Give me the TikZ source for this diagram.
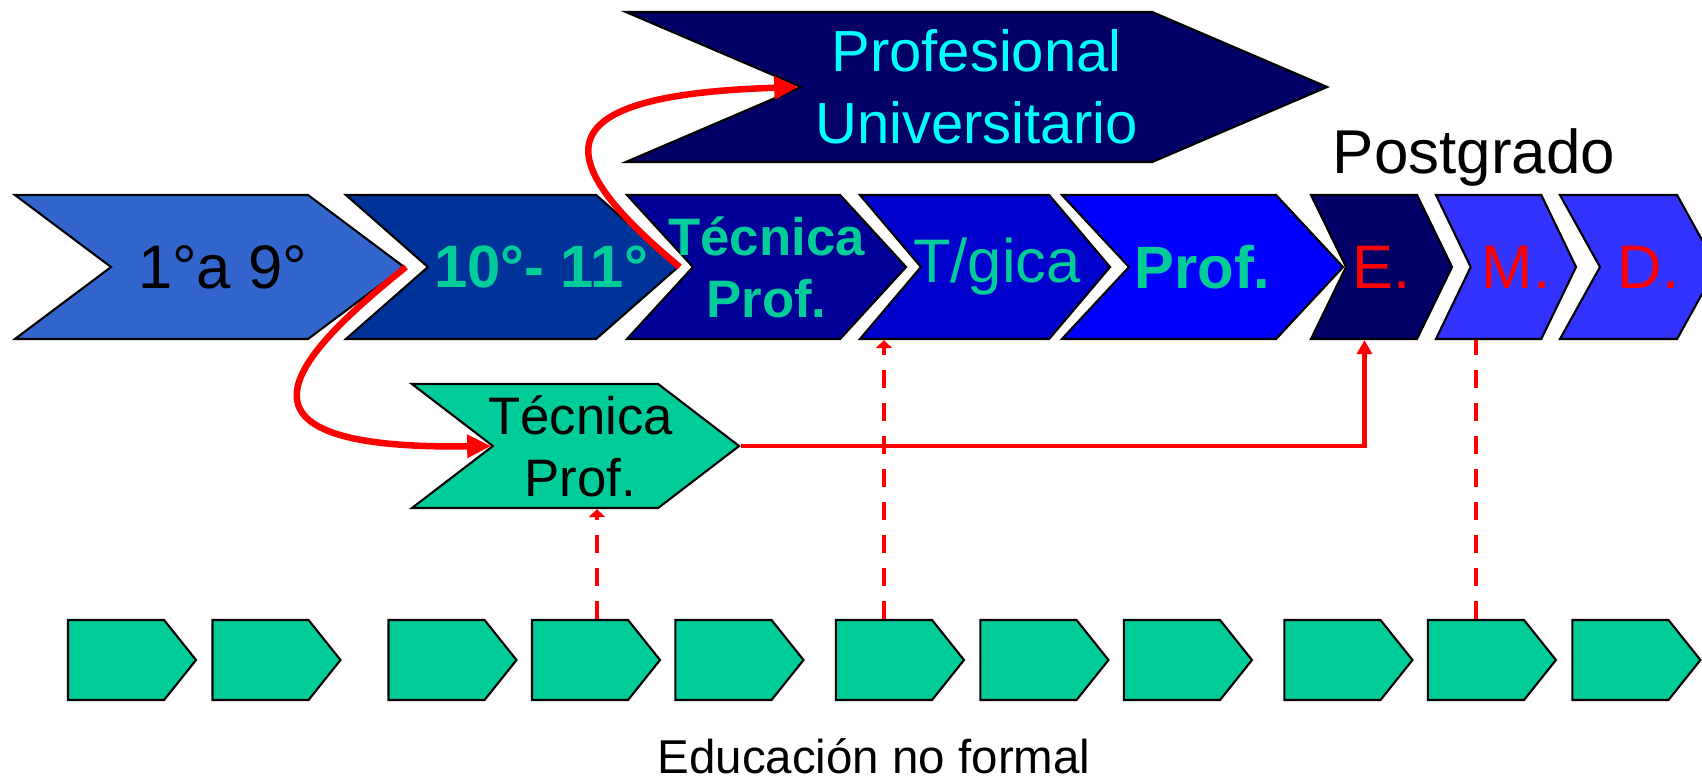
\documentclass[tikz,border=0pt]{standalone}
\usepackage{fontspec}
\setmainfont{Liberation Sans}
\usetikzlibrary{arrows.meta, shapes.symbols, positioning}

\definecolor{verde}{HTML}{00CC99}
\definecolor{cian}{HTML}{00FFFF}
\definecolor{rojo}{HTML}{FF0000}
\definecolor{azul1}{HTML}{3366CC}
\definecolor{azul2}{HTML}{003399}
\definecolor{azul3}{HTML}{000099}
\definecolor{azul4}{HTML}{0000CC}
\definecolor{azul5}{HTML}{0000FF}
\definecolor{marino}{HTML}{000066}
\definecolor{lila}{HTML}{3333FF}

% text that may run over the points of its chevron
\newcommand{\rotulo}[2][0cm]{\makebox[0pt]{\hspace*{#1}#2}}

\tikzset{chevron/.style = {
  % Shape:
  signal, signal to=east, signal from=west,
  draw=black, line width=0.6pt,
  minimum height=1.44cm, inner sep=0pt,
  % Text:
  align=center,
  font=\fontsize{17.5}{20}\selectfont
  }}
\tikzset{formal/.style = {
  % Shape:
  chevron,
  % Text:
  text=verde,
  font=\bfseries\fontsize{17}{20}\selectfont
  }}
\tikzset{grado/.style = {
  % Shape:
  chevron,
  % Text:
  text=rojo
  }}
\tikzset{modulo/.style = {
  % Shape:
  signal, signal to=east, signal from=nowhere,
  draw=black, line width=0.6pt,
  fill=verde,
  minimum width=1.28cm, minimum height=0.8cm,
  signal pointer angle=102.7
  }}
\tikzset{curva/.style = {
  -{Triangle[length=0.24cm, width=0.22cm]},
  draw=rojo,
  line width=1.85pt
  }}
\tikzset{linea/.style = {
  -{Triangle[length=0.14cm, width=0.15cm]},
  draw=rojo,
  line width=1.4pt
  }}
\tikzset{discontinua/.style = {
  -{Triangle[length=0.08cm, width=0.16cm]},
  draw=rojo,
  line width=1.2pt,
  dash pattern=on 0.18cm off 0.15cm
  }}

\begin{document}
\begin{tikzpicture}[x=0.01cm, y=-0.01cm]
  \useasboundingbox (0,0) rectangle (1702,778);

  %
  % Specification of nodes
  %
  \node (basica) [chevron, fill=azul1, minimum width=3.89cm, signal pointer angle=73.7] at (209.5,267) {\rotulo[0.26cm]{1°a 9°}};
  \node (media) [formal, fill=azul2, minimum width=3.32cm, signal pointer angle=82.6] at (512,267) {\rotulo[0.58cm]{10°- 11°}};
  \node (tecprof) [formal, fill=azul3, minimum width=2.79cm, signal pointer angle=95,
    font=\bfseries\fontsize{15}{17.6}\selectfont] at (766.5,267) {\rotulo{Técnica}\\\rotulo{Prof.}};
  \node (tecnologica) [chevron, text=verde, fill=azul4, minimum width=2.5cm, signal pointer angle=99.5] at (985,267) {\rotulo[0.24cm]{T/gica}};
  \node (profesional) [formal, fill=azul5, minimum width=2.81cm, signal pointer angle=94.1] at (1202.5,267) {\rotulo{Prof.}};
  \node (especializacion) [grado, fill=marino, minimum width=1.41cm, signal pointer angle=128.1] at (1381.5,267) {\rotulo{E.}};
  \node (maestria) [grado, fill=lila, minimum width=1.4cm, signal pointer angle=128.5] at (1506,267) {\rotulo[0.2cm]{M.}};
  \node (doctorado) [grado, fill=lila, minimum width=1.57cm, signal pointer angle=121.9] at (1638.5,267) {\rotulo[0.2cm]{D.}};

  \node (universitario) [chevron, text=cian, fill=marino, minimum width=7.01cm, minimum height=1.5cm,
    signal pointer angle=46.4, font=\fontsize{16.5}{20.5}\selectfont] at (976.5,87) {Profesional\\Universitario};
  \node (postgrado) [anchor=base, font=\fontsize{17.6}{20}\selectfont] at (1474,173) {Postgrado};

  \node (tecprof-media) [chevron, fill=verde, minimum width=3.27cm, minimum height=1.24cm,
    signal pointer angle=74.9, font=\fontsize{15}{17.6}\selectfont] at (575.5,446) {\rotulo[0.1cm]{Técnica}\\\rotulo[0.1cm]{Prof.}};

  \node (nf1) [modulo] at (116,660) {};
  \node (nf2) [modulo, right = 0.14cm of nf1] {};
  \node (nf3) [modulo, right = 0.455cm of nf2] {};
  \node (nf4) [modulo, right = 0.13cm of nf3] {};
  \node (nf5) [modulo, right = 0.13cm of nf4] {};
  \node (nf6) [modulo, right = 0.30cm of nf5] {};
  \node (nf7) [modulo, right = 0.14cm of nf6] {};
  \node (nf8) [modulo, right = 0.13cm of nf7] {};
  \node (nf9) [modulo, right = 0.30cm of nf8] {};
  \node (nf10) [modulo, right = 0.13cm of nf9] {};
  \node (nf11) [modulo, right = 0.14cm of nf10] {};
  \node (noformal) [anchor=base, font=\fontsize{13.5}{16}\selectfont] at (874,773) {Educación no formal};

  %
  % Specification of lines
  %
  \coordinate (d4) at ([xshift=0.17cm]nf4.north);

  \draw [curva] (basica.east) .. controls (290,360) and (210,450) .. (tecprof-media.west);
  \draw [curva] (media.east) .. controls (545,155) and (545,95) .. (universitario.west);
  \draw [linea] (tecprof-media.east) -| ([xshift=-0.17cm]especializacion.south);

  \draw [discontinua] (d4) -- (d4 |- tecprof-media.south);
  \draw [discontinua] (nf6.north) -- (nf6.north |- tecnologica.south);
  \draw [discontinua, -] (nf10.north) -- (nf10.north |- maestria.south);
\end{tikzpicture}
\end{document}
